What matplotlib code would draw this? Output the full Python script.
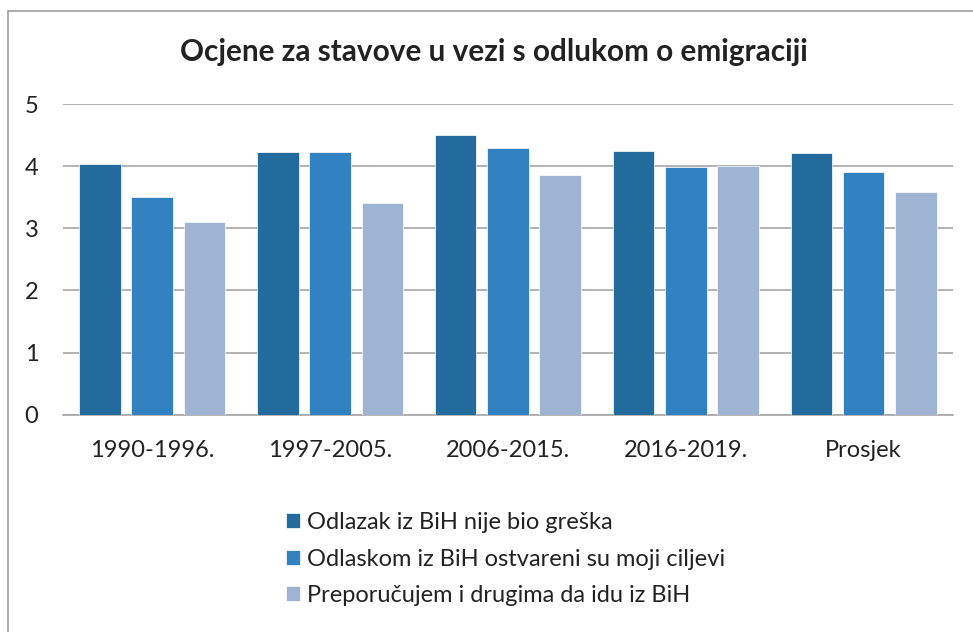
import numpy as np
import matplotlib
matplotlib.use("Agg")
import matplotlib.pyplot as plt
from matplotlib.patches import Rectangle

plt.rcParams['font.family'] = ['Lato', 'DejaVu Sans']

# data
categories = ['1990-1996.', '1997-2005.', '2006-2015.', '2016-2019.', 'Prosjek']
series_names = ['Odlazak iz BiH nije bio greška',
                'Odlaskom iz BiH ostvareni su moji ciljevi',
                'Preporučujem i drugima da idu iz BiH']
nije_greska = [4.04, 4.23, 4.50, 4.24, 4.21]
ostvareni_ciljevi = [3.50, 4.22, 4.29, 3.99, 3.90]
preporucujem = [3.10, 3.41, 3.85, 4.00, 3.59]
colors = ['#236B9D', '#3281C1', '#9FB4D2']

fig = plt.figure(figsize=(9.73, 6.32), dpi=100)
ax = fig.add_axes([0.0651, 0.3438, 0.979 - 0.0651, 0.8354 - 0.3438])

x = np.arange(len(categories))
width = 0.234
step = 0.294
bars = []
for i, vals in enumerate([nije_greska, ostvareni_ciljevi, preporucujem]):
    b = ax.bar(x + (i - 1) * step, vals, width, color=colors[i],
               edgecolor='white', linewidth=0.5, zorder=3, label=series_names[i])
    bars.append(b)

ax.set_xlim(-0.5, len(categories) - 0.5)
ax.set_ylim(0, 5)
ax.set_yticks(range(6))
ax.set_xticks(x)
ax.set_xticklabels(categories)
ax.yaxis.grid(True, color='#A6A6A6', linewidth=1.2, zorder=0)
ax.set_axisbelow(True)
for s in ['top', 'right', 'left']:
    ax.spines[s].set_visible(False)
ax.spines['bottom'].set_color('#A6A6A6')
ax.spines['bottom'].set_linewidth(1.2)
ax.tick_params(axis='both', length=0, labelsize=17, colors='#222222')
ax.tick_params(axis='y', pad=18)
ax.tick_params(axis='x', pad=18)

fig.text(0.508, 0.918, 'Ocjene za stavove u vezi s odlukom o emigraciji',
         ha='center', va='center', fontsize=21.4, fontweight='bold', color='#222222')

leg = fig.legend(handles=bars, labels=series_names, loc='upper left',
                 bbox_to_anchor=(0.294, 0.1899), frameon=False, fontsize=17,
                 handlelength=0.6, handleheight=0.6, handletextpad=0.28,
                 labelspacing=0.66, borderpad=0, borderaxespad=0)
for t in leg.get_texts():
    t.set_color('#222222')

# outer chart border (cut off on the right and bottom)
fig.patches.append(Rectangle((8 / 973, -0.1), 1.2, 1 - 11 / 632 + 0.1,
                             transform=fig.transFigure, fill=False,
                             edgecolor='#A0A0A0', linewidth=1.2))

fig.savefig('out.png', dpi=100)
